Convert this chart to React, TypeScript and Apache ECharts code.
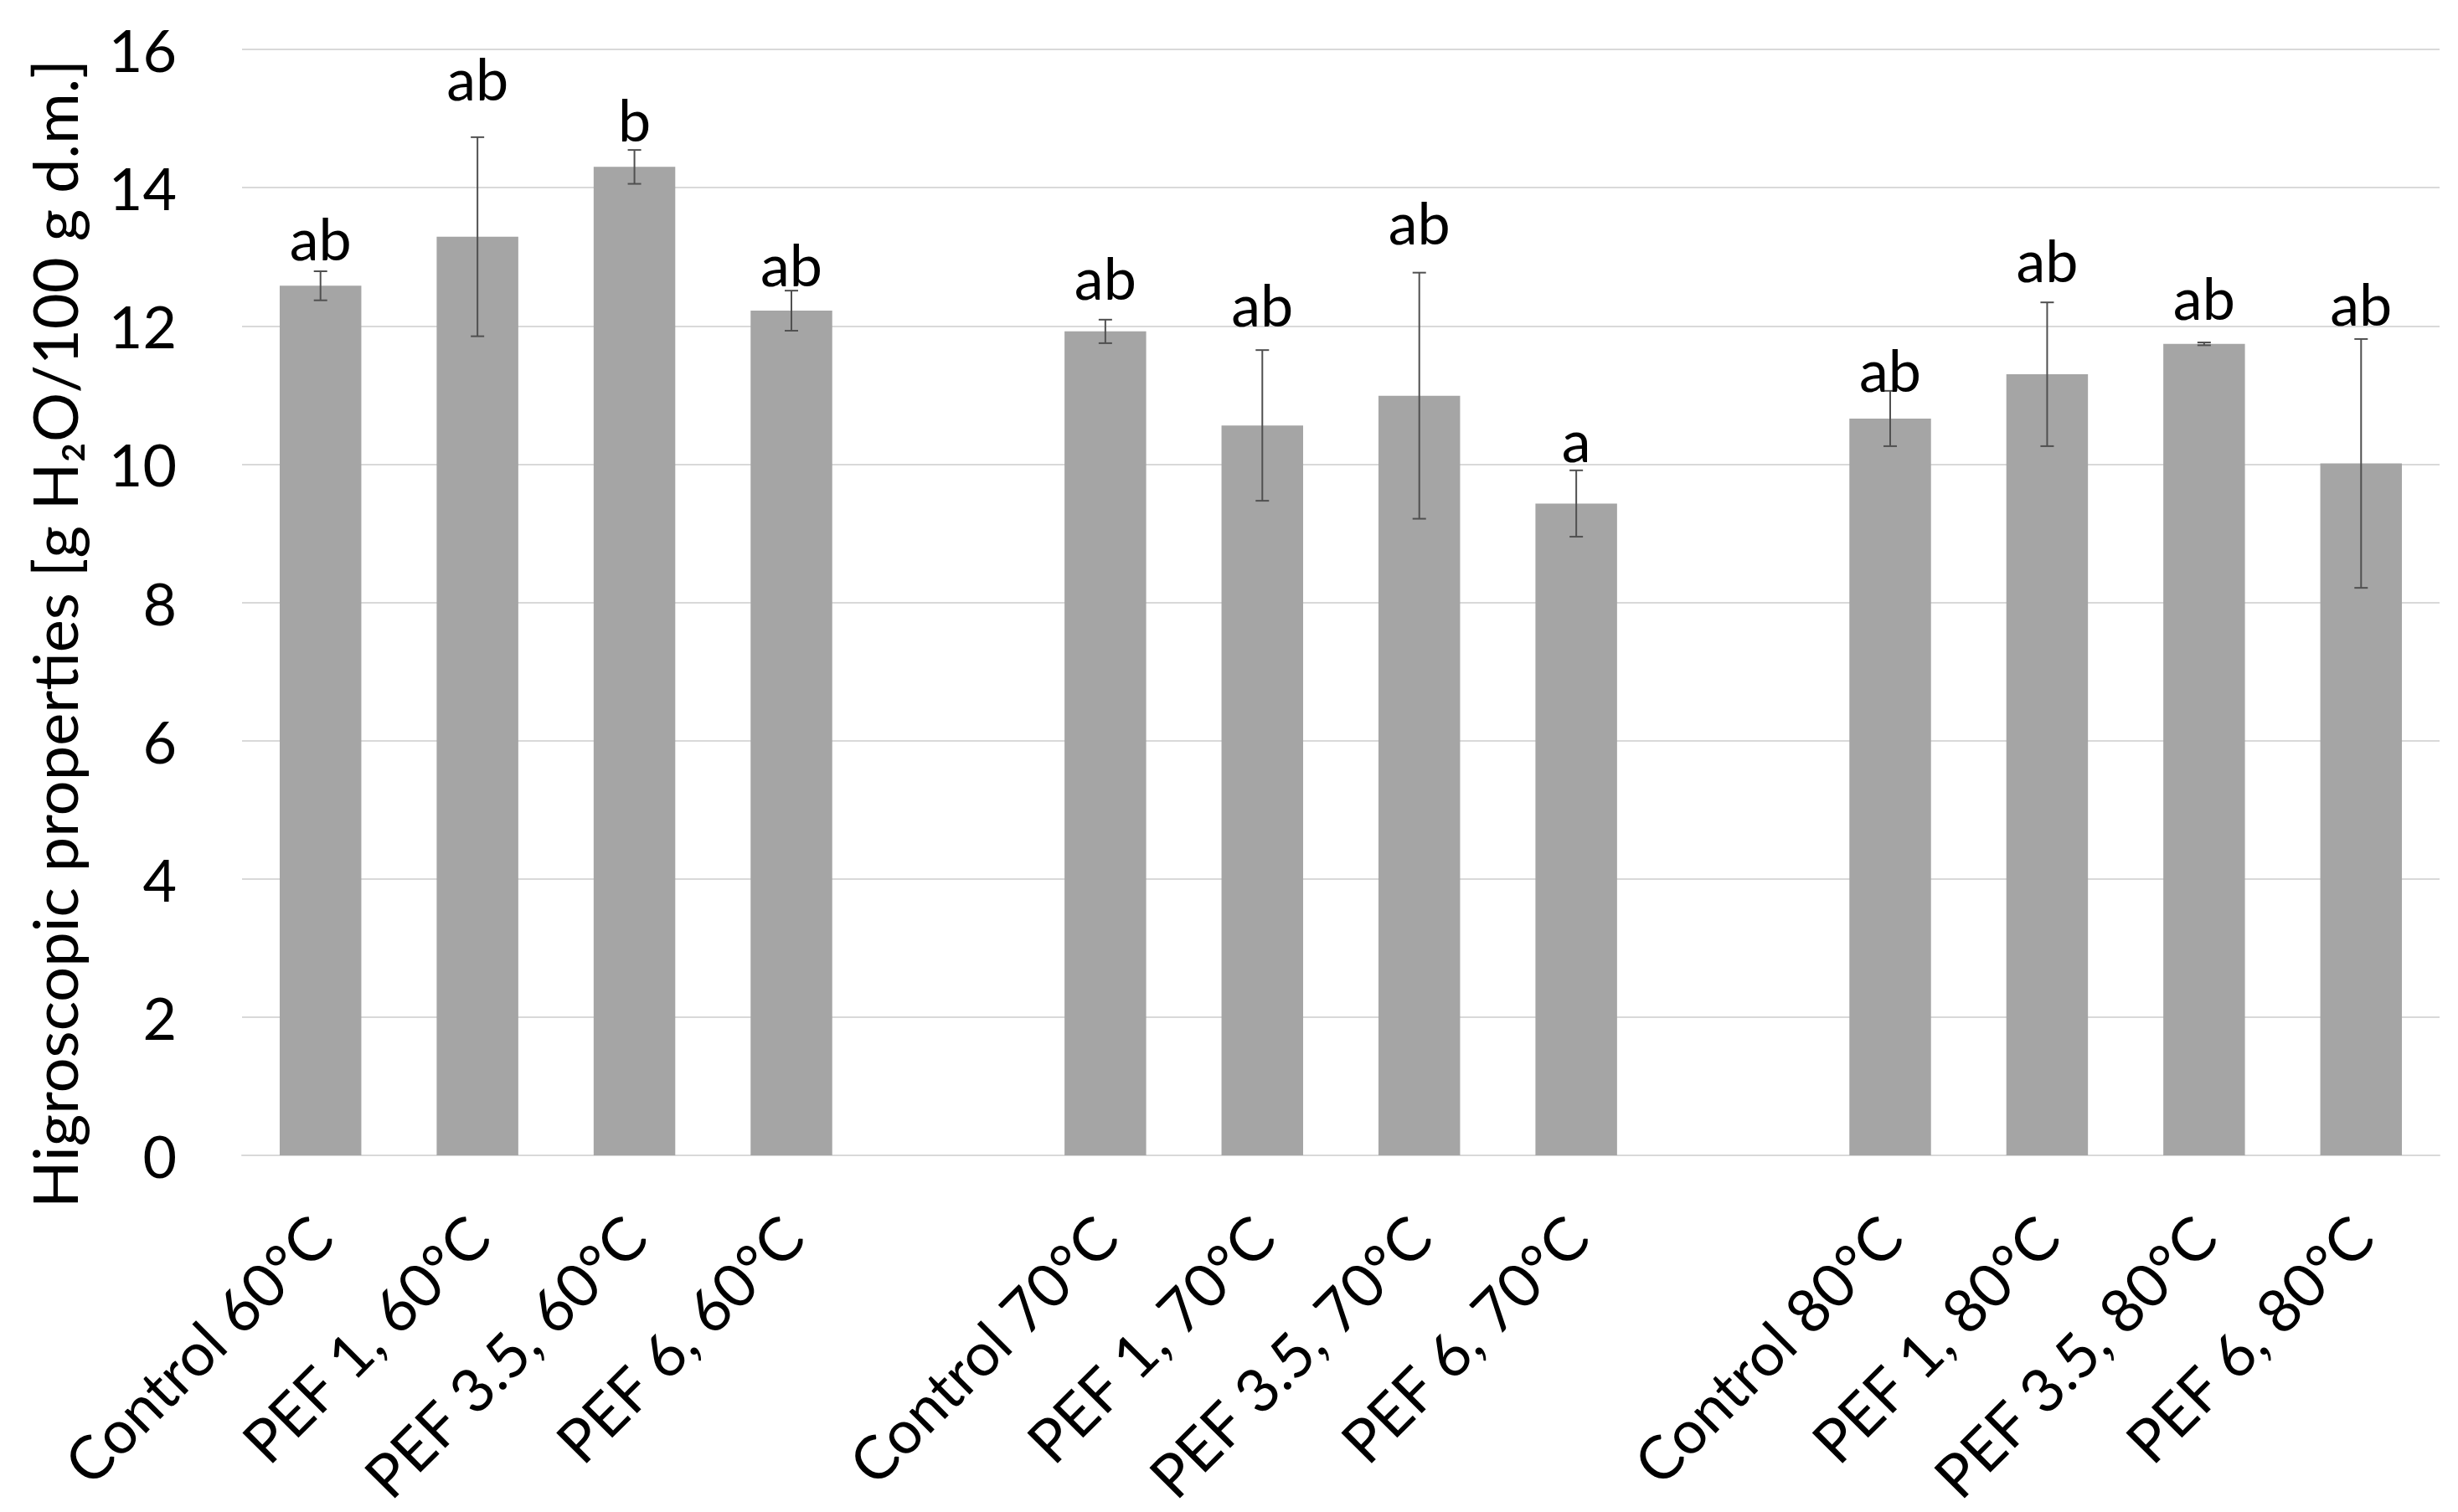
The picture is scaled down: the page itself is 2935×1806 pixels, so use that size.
import React, { useEffect, useRef } from 'react';
import * as echarts from 'echarts';

const categories = [
  'Control 60°C', 'PEF 1, 60°C', 'PEF 3.5, 60°C', 'PEF 6, 60°C', '',
  'Control 70°C', 'PEF 1, 70°C', 'PEF 3.5, 70°C', 'PEF 6, 70°C', '',
  'Control 80°C', 'PEF 1, 80°C', 'PEF 3.5, 80°C', 'PEF 6, 80°C',
];
const means = [12.58, 13.29, 14.3, 12.22, null, 11.92, 10.56, 10.99, 9.43, null, 10.66, 11.3, 11.74, 10.01];
const errors = [0.21, 1.44, 0.245, 0.29, null, 0.17, 1.09, 1.78, 0.48, null, 0.4, 1.04, 0.02, 1.8];
const letters = ['ab', 'ab', 'b', 'ab', '', 'ab', 'ab', 'ab', 'a', '', 'ab', 'ab', 'ab', 'ab'];
const letterLevels = [13.02, 15.33, 14.74, 12.65, null, 12.45, 12.06, 13.25, 10.1, null, 11.12, 12.7, 12.16, 12.07];
const yMin = 0;
const yMax = 16;
const yStep = 2;
const yTitle = 'Higroscopic properties [g H₂O/100 g d.m.]';

const FONT = 'Lato, "Open Sans", sans-serif';
const FS = 70;

export default function App() {
  const ref = useRef<HTMLDivElement>(null);
  useEffect(() => {
    if (!ref.current) return;
    const chart = echarts.init(ref.current, undefined, { renderer: 'svg' });
    const errData = means
      .map((m, i) => (m == null || errors[i] == null ? null : [i, m, errors[i]]))
      .filter((d) => d !== null);
    const letterData = letterLevels
      .map((l, i) => (l == null ? null : [i, l]))
      .filter((d) => d !== null);
    chart.setOption({
      animation: false,
      backgroundColor: '#ffffff',
      grid: { left: 289, right: 22, top: 59, bottom: 426, containLabel: false },
      xAxis: {
        type: 'category',
        data: categories,
        axisLine: { show: true, lineStyle: { color: '#d9d9d9', width: 2 } },
        axisTick: { show: false },
        axisLabel: {
          interval: 0,
          rotate: 45,
          margin: 84,
          color: '#000000',
          fontFamily: FONT,
          fontSize: 72,
        },
      },
      yAxis: {
        type: 'value',
        min: yMin,
        max: yMax,
        interval: yStep,
        axisLine: { show: false },
        axisTick: { show: false },
        splitLine: { lineStyle: { color: '#d9d9d9', width: 2 } },
        axisLabel: {
          margin: 78,
          color: '#000000',
          fontFamily: FONT,
          fontSize: FS,
        },
      },
      graphic: [
        {
          type: 'text',
          x: 64,
          y: 757,
          rotation: Math.PI / 2,
          style: {
            text: yTitle,
            fill: '#000000',
            fontFamily: FONT,
            fontSize: 74,
            align: 'center',
            verticalAlign: 'middle',
          },
        },
      ],
      series: [
        {
          type: 'bar',
          data: means.map((m) => (m == null ? '-' : m)),
          barWidth: '52%',
          itemStyle: { color: '#a5a5a5' },
          z: 2,
        },
        {
          type: 'custom',
          data: errData,
          z: 3,
          renderItem: (params: any, api: any) => {
            const i = api.value(0);
            const m = api.value(1);
            const e = api.value(2);
            const top = api.coord([i, m + e]);
            const bot = api.coord([i, m - e]);
            const hw = 8;
            const st = { stroke: '#505050', lineWidth: 2 };
            return {
              type: 'group',
              children: [
                { type: 'line', shape: { x1: top[0], y1: top[1], x2: bot[0], y2: bot[1] }, style: st },
                { type: 'line', shape: { x1: top[0] - hw, y1: top[1], x2: top[0] + hw, y2: top[1] }, style: st },
                { type: 'line', shape: { x1: bot[0] - hw, y1: bot[1], x2: bot[0] + hw, y2: bot[1] }, style: st },
              ],
            };
          },
        },
        {
          type: 'custom',
          data: letterData,
          z: 4,
          renderItem: (params: any, api: any) => {
            const i = api.value(0);
            const l = api.value(1);
            const p = api.coord([i, l]);
            return {
              type: 'text',
              x: p[0],
              y: p[1] + 14,
              style: {
                text: letters[i],
                fill: '#000000',
                fontFamily: FONT,
                fontSize: FS,
                align: 'center',
                verticalAlign: 'bottom',
              },
            };
          },
        },
      ],
    });
    return () => chart.dispose();
  }, []);
  return (
    <div
      ref={ref}
      style={{ position: 'fixed', left: 0, top: 0, width: 2935, height: 1806, background: '#fff' }}
    />
  );
}
